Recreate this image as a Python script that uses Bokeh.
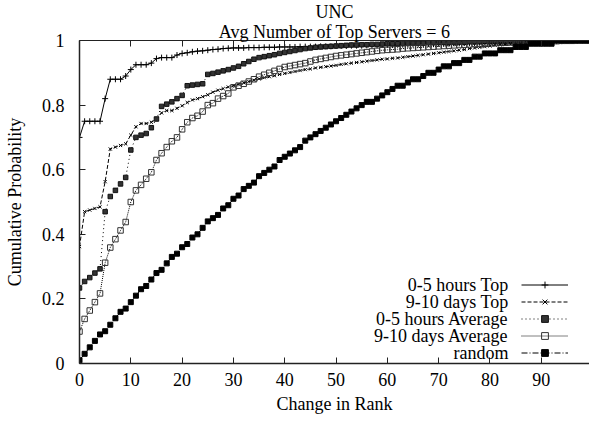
from bokeh.plotting import figure
from bokeh.models import (Range1d, LinearAxis, FixedTicker, Legend, LegendItem,
                          Label, Title, ColumnDataSource)
from bokeh.embed import file_html
from bokeh.resources import INLINE

# ---- data ----
rank = list(range(100))

top_0_5h = [0.70,0.75,0.75,0.75,0.75,0.82,0.88,0.88,0.88,0.89,
            0.91,0.925,0.925,0.925,0.93,0.944,0.947,0.947,0.947,0.955,
            0.96,0.962,0.965,0.967,0.968,0.97,0.972,0.973,0.975,0.976,
            0.977,0.977,0.977,0.978,0.978,0.978,0.979,0.979,0.979,0.98,
            0.98,0.98,0.98,0.981,0.981,0.981,0.981,0.982,0.982,0.982,
            0.983,0.983,0.983,0.984,0.984,0.984,0.985,0.985,0.985,0.986,
            0.986,0.986,0.987,0.987,0.987,0.988,0.988,0.988,0.989,0.989,
            0.99,0.99,0.99,0.991,0.991,0.992,0.992,0.992,0.993,0.993,
            0.994,0.994,0.994,0.995,0.995,0.995,0.996,0.996,0.996,0.997,
            0.997,0.997,0.998,0.998,0.998,0.999,0.999,0.999,1.0,1.0]

top_9_10d = [0.362,0.47,0.475,0.48,0.485,0.563,0.664,0.67,0.675,0.68,
             0.707,0.733,0.743,0.743,0.747,0.757,0.776,0.783,0.783,0.79,
             0.798,0.808,0.816,0.82,0.826,0.832,0.84,0.846,0.851,0.856,
             0.86,0.865,0.869,0.873,0.877,0.881,0.885,0.888,0.891,0.895,
             0.898,0.901,0.904,0.907,0.91,0.912,0.915,0.917,0.919,0.921,
             0.923,0.926,0.928,0.93,0.932,0.934,0.936,0.938,0.94,0.942,
             0.943,0.945,0.946,0.948,0.95,0.952,0.954,0.956,0.958,0.96,
             0.962,0.964,0.966,0.968,0.97,0.972,0.975,0.977,0.979,0.981,
             0.983,0.985,0.986,0.988,0.989,0.991,0.992,0.993,0.994,0.995,
             0.996,0.997,0.997,0.998,0.998,0.999,0.999,1.0,1.0,1.0]

avg_0_5h = [0.234,0.254,0.266,0.28,0.293,0.47,0.517,0.536,0.556,0.576,
            0.661,0.70,0.707,0.712,0.73,0.757,0.796,0.803,0.81,0.82,
            0.83,0.86,0.862,0.864,0.866,0.895,0.898,0.902,0.906,0.91,
            0.915,0.92,0.928,0.935,0.942,0.947,0.95,0.953,0.956,0.96,
            0.963,0.966,0.969,0.972,0.975,0.977,0.979,0.98,0.981,0.982,
            0.983,0.984,0.985,0.986,0.986,0.987,0.987,0.988,0.988,0.989,
            0.99,0.99,0.99,0.991,0.991,0.992,0.992,0.992,0.993,0.993,
            0.994,0.994,0.994,0.995,0.995,0.995,0.996,0.996,0.996,0.997,
            0.997,0.997,0.997,0.998,0.998,0.998,0.998,0.998,0.999,0.999,
            0.999,0.999,0.999,1.0,1.0,1.0,1.0,1.0,1.0,1.0]

avg_9_10d = [0.099,0.138,0.164,0.19,0.217,0.312,0.359,0.385,0.412,0.438,
             0.50,0.536,0.553,0.572,0.592,0.63,0.651,0.67,0.688,0.70,
             0.725,0.747,0.76,0.767,0.78,0.80,0.806,0.82,0.828,0.836,
             0.855,0.86,0.866,0.873,0.88,0.888,0.894,0.9,0.906,0.912,
             0.918,0.921,0.924,0.927,0.93,0.935,0.94,0.943,0.946,0.949,
             0.952,0.954,0.956,0.958,0.96,0.962,0.964,0.966,0.968,0.97,
             0.971,0.972,0.973,0.975,0.976,0.977,0.978,0.979,0.98,0.981,
             0.982,0.983,0.984,0.985,0.986,0.987,0.988,0.989,0.989,0.99,
             0.991,0.992,0.993,0.993,0.994,0.995,0.995,0.996,0.996,0.997,
             0.997,0.998,0.998,0.998,0.999,0.999,0.999,1.0,1.0,1.0]

random_cdf = [0.01,0.03,0.05,0.07,0.09,0.10,0.12,0.14,0.16,0.17,
              0.19,0.21,0.23,0.24,0.26,0.28,0.29,0.31,0.33,0.34,
              0.36,0.37,0.39,0.40,0.42,0.44,0.45,0.46,0.48,0.49,
              0.51,0.52,0.54,0.55,0.56,0.58,0.59,0.60,0.61,0.63,
              0.64,0.65,0.66,0.67,0.69,0.70,0.71,0.72,0.73,0.74,
              0.75,0.76,0.77,0.78,0.79,0.80,0.81,0.81,0.82,0.83,
              0.84,0.85,0.86,0.86,0.87,0.88,0.88,0.89,0.90,0.90,
              0.91,0.92,0.92,0.93,0.93,0.94,0.94,0.95,0.95,0.96,
              0.96,0.96,0.97,0.97,0.97,0.98,0.98,0.98,0.99,0.99,
              0.99,0.99,0.99,1.0,1.0,1.0,1.0,1.0,1.0,1.0]

series_names = ["0-5 hours Top", "9-10 days Top", "0-5 hours Average",
                "9-10 days Average", "random"]
x_ticks = [0, 10, 20, 30, 40, 50, 60, 70, 80, 90]
y_ticks = [0, 0.2, 0.4, 0.6, 0.8, 1]
title_lines = ["UNC", "Avg Number of Top Servers = 6"]
x_label = "Change in Rank"
y_label = "Cumulative Probability"

# ---- figure ----
FONT = "Liberation Serif"
FS = "18px"
W, H = 589, 422
FL, FT, FB = 79, 40, 363          # frame left / top / bottom on the page
p = figure(width=W, height=H, output_backend="svg", toolbar_location=None,
           x_range=Range1d(0, 99.4), y_range=Range1d(0, 1),
           min_border_left=FL, min_border_right=0, min_border_top=FT,
           min_border_bottom=H - FB, x_axis_location=None, y_axis_location=None)
p.grid.visible = False
p.outline_line_color = None
p.background_fill_color = "white"

def style_axis(ax, ticks, show_labels=True, lw=1.5):
    ax.ticker = FixedTicker(ticks=ticks)
    ax.major_tick_in = 6
    ax.major_tick_out = 0
    ax.minor_tick_line_color = None
    ax.axis_line_color = "#222222"
    ax.axis_line_width = lw
    ax.major_tick_line_color = "#222222"
    ax.major_tick_line_width = 1
    ax.major_label_text_font = FONT
    ax.major_label_text_font_size = FS if show_labels else "0px"
    ax.major_label_text_color = "black"
    ax.axis_label_text_font = FONT
    ax.axis_label_text_font_size = FS
    ax.axis_label_text_font_style = "normal"
    ax.axis_label_text_color = "black"

xb = LinearAxis(axis_label=x_label)
style_axis(xb, x_ticks)
xb.major_label_standoff = 9
xb.axis_label_standoff = 5
p.add_layout(xb, "below")

yl = LinearAxis(axis_label=y_label)
style_axis(yl, y_ticks)
yl.major_label_overrides = {0: "0", 1: "1"}
yl.major_label_standoff = 15
yl.axis_label_standoff = 14
p.add_layout(yl, "left")

xt = LinearAxis()
style_axis(xt, x_ticks, show_labels=False, lw=1)
xt.major_label_standoff = 0
p.add_layout(xt, "above")

# title: two centred lines; the one added first sits nearest the frame
for t in reversed(title_lines):
    p.add_layout(Title(text=t, align="center", text_font=FONT,
                       text_font_size=FS, text_font_style="normal",
                       text_color="black", standoff=-2, offset=0), "above")

# ---- series ----
styles = [
    dict(y=top_0_5h, dash="solid", marker="cross", size=6, fill="black", lc="black"),
    dict(y=top_9_10d, dash="4 2", marker="x", size=4.5, fill="black", lc="black"),
    dict(y=avg_0_5h, dash="1 3", marker="square", size=4.5, fill="#333333", lc="#111111"),
    dict(y=avg_9_10d, dash="1 1", marker="square", size=5.5, fill=None, lc="#333333"),
    dict(y=random_cdf, dash="6 2 1 2", marker="square", size=5, fill="black", lc="black"),
]

items = []
for name, st in zip(series_names, styles):
    src = ColumnDataSource(dict(x=rank, y=st["y"]))
    ln = p.line("x", "y", source=src, line_color="black", line_width=1,
                line_dash=st["dash"])
    sc = p.scatter("x", "y", source=src, marker=st["marker"], size=st["size"],
                   line_color=st["lc"], line_width=1, fill_color=st["fill"])
    items.append(LegendItem(label=" ", renderers=[ln, sc]))

ROW = 17
legend = Legend(items=items, location=(521 - FL, 2), glyph_width=47,
                glyph_height=ROW, label_height=ROW, label_width=1,
                spacing=0, padding=0, margin=0, border_line_color=None,
                background_fill_alpha=0, label_text_font_size="1px",
                label_standoff=0)
p.add_layout(legend, "center")

# legend texts (right aligned, left of the samples); screen units are frame-relative
for i, name in enumerate(series_names):
    p.add_layout(Label(x=508 - FL, y=FB - 284 - ROW * i, x_units="screen",
                       y_units="screen", text=name, text_align="right",
                       text_baseline="middle", text_font=FONT,
                       text_font_size=FS, text_color="black"))

open("out.html", "w").write(file_html(p, INLINE))
